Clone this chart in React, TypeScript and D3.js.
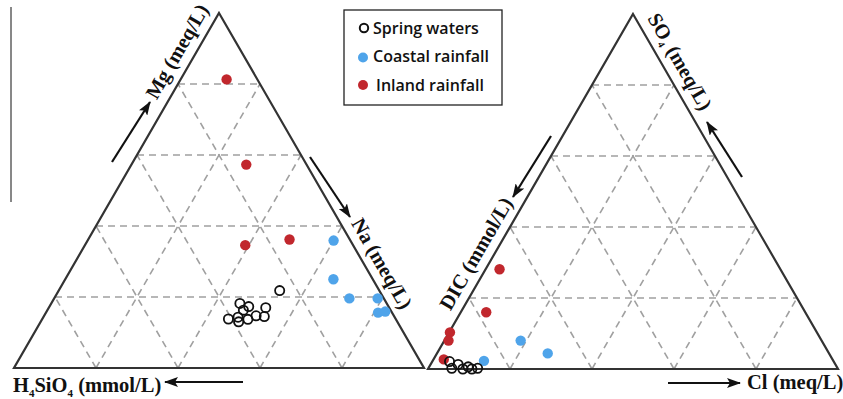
import React from "react";
import * as d3 from "d3";

// ---- Data (ternary fractions) ----
// Left triangle: [Mg, Na]  (H4SiO4 = 1 - Mg - Na)
const leftInland: [number, number][] = [
  [0.813, 0.112], [0.573, 0.28], [0.346, 0.391], [0.362, 0.491],
];
const leftCoastal: [number, number][] = [
  [0.359, 0.6], [0.25, 0.654], [0.196, 0.72], [0.196, 0.789], [0.156, 0.81], [0.159, 0.826],
];
const leftSpring: [number, number][] = [
  [0.218, 0.539], [0.182, 0.46], [0.173, 0.486], [0.163, 0.478], [0.17, 0.529],
  [0.138, 0.454], [0.143, 0.475], [0.13, 0.483], [0.137, 0.502], [0.147, 0.517], [0.145, 0.538],
];
// Right triangle: [SO4, Cl]  (DIC = 1 - SO4 - Cl)
const rightInland: [number, number][] = [
  [0.281, 0.034], [0.16, 0.062], [0.103, 0.002], [0.08, 0.01], [0.027, 0.025],
];
const rightCoastal: [number, number][] = [
  [0.08, 0.186], [0.044, 0.27], [0.023, 0.125],
];
const rightSpring: [number, number][] = [
  [0.021, 0.042], [0.013, 0.067], [0.002, 0.057], [0.0, 0.085], [0.006, 0.095], [0.002, 0.12], [0.0, 0.107],
];
const gridTicks = [0.2, 0.4, 0.6, 0.8];
const legendLabels = ["Spring waters", "Coastal rainfall", "Inland rainfall"];

const RED = "#c1272d";
const BLUE = "#4fa4ea";
const GRID = "#a0a0a0";
const EDGE = "#333";

type Tri = { x: d3.ScaleLinear<number, number>; y: d3.ScaleLinear<number, number> };

const leftTri: Tri = {
  x: d3.scaleLinear().domain([0, 1]).range([14, 424]),
  y: d3.scaleLinear().domain([0, 1]).range([368, 13]),
};
const rightTri: Tri = {
  x: d3.scaleLinear().domain([0, 1]).range([428, 838]),
  y: d3.scaleLinear().domain([0, 1]).range([369, 14]),
};

// top fraction t, right-corner fraction r
const pt = (tri: Tri, t: number, r: number): [number, number] => [tri.x(r + t / 2), tri.y(t)];

function Grid({ tri }: { tri: Tri }) {
  const lines: [number, number][][] = [];
  gridTicks.forEach((v) => {
    lines.push([pt(tri, v, 0), pt(tri, v, 1 - v)]);
    lines.push([pt(tri, 0, v), pt(tri, 1 - v, v)]);
    lines.push([pt(tri, 0, 1 - v), pt(tri, 1 - v, 0)]);
  });
  const outline = [pt(tri, 1, 0), pt(tri, 0, 1), pt(tri, 0, 0)];
  return (
    <g>
      {lines.map((l, i) => (
        <line key={i} x1={l[0][0]} y1={l[0][1]} x2={l[1][0]} y2={l[1][1]}
          stroke={GRID} strokeWidth={1.6} strokeDasharray="7,5" />
      ))}
      <path d={d3.line()(outline)! + "Z"} fill="none" stroke={EDGE} strokeWidth={2.2} strokeLinejoin="miter" />
    </g>
  );
}

function Points({ tri, inland, coastal, spring }: { tri: Tri; inland: [number, number][]; coastal: [number, number][]; spring: [number, number][] }) {
  return (
    <g>
      {inland.map((d, i) => {
        const [x, y] = pt(tri, d[0], d[1]);
        return <circle key={"i" + i} cx={x} cy={y} r={5.2} fill={RED} />;
      })}
      {coastal.map((d, i) => {
        const [x, y] = pt(tri, d[0], d[1]);
        return <circle key={"c" + i} cx={x} cy={y} r={5.2} fill={BLUE} />;
      })}
      {spring.map((d, i) => {
        const [x, y] = pt(tri, d[0], d[1]);
        return <circle key={"s" + i} cx={x} cy={y} r={4.6} fill="none" stroke="#111" strokeWidth={1.8} />;
      })}
    </g>
  );
}

const labelStyle: React.CSSProperties = {
  fontFamily: "'Liberation Serif', 'Times New Roman', serif",
  fontWeight: 700,
  fontSize: 20.5,
  fill: "#111",
};

function Arrow({ x1, y1, x2, y2 }: { x1: number; y1: number; x2: number; y2: number }) {
  return <line x1={x1} y1={y1} x2={x2} y2={y2} stroke="#111" strokeWidth={2.2} markerEnd="url(#ah)" />;
}

export default function App() {
  return (
    <svg width={843} height={399} style={{ position: "absolute", left: 0, top: 0, background: "#fff" }}>
      <defs>
        <marker id="ah" viewBox="0 0 14 10" refX={13} refY={5} markerWidth={14} markerHeight={10}
          markerUnits="userSpaceOnUse" orient="auto">
          <path d="M0,0 L14,5 L0,10 L3,5 Z" fill="#111" />
        </marker>
      </defs>
      <rect width={843} height={399} fill="#fff" />
      <line x1={11} y1={7} x2={11} y2={202} stroke="#111" strokeWidth={1} />

      <Grid tri={leftTri} />
      <Grid tri={rightTri} />
      <Points tri={leftTri} inland={leftInland} coastal={leftCoastal} spring={leftSpring} />
      <Points tri={rightTri} inland={rightInland} coastal={rightCoastal} spring={rightSpring} />

      {/* Left labels */}
      <text transform="translate(183,55) rotate(-60)" textAnchor="middle" style={labelStyle}>Mg (meq/L)</text>
      <Arrow x1={112} y1={162} x2={150} y2={102} />
      <text transform="translate(376,267) rotate(60)" textAnchor="middle" style={labelStyle}>Na (meq/L)</text>
      <Arrow x1={310} y1={157} x2={350} y2={217} />
      <text x={13} y={392} style={labelStyle}>
        H<tspan fontSize={11} dy={5}>4</tspan>
        <tspan dy={-5}>SiO</tspan>
        <tspan fontSize={11} dy={5}>4</tspan>
        <tspan dy={-5}> (mmol/L)</tspan>
      </text>
      <Arrow x1={243} y1={382} x2={165} y2={382} />

      {/* Right labels */}
      <text transform="translate(674,65) rotate(60)" textAnchor="middle" style={labelStyle}>
        SO<tspan fontSize={10} dy={4}>4</tspan>
        <tspan dy={-4}> (meq/L)</tspan>
      </text>
      <Arrow x1={742} y1={177} x2={707} y2={122} />
      <text transform="translate(482,257) rotate(-60)" textAnchor="middle" style={labelStyle}>DIC (mmol/L)</text>
      <Arrow x1={551} y1={136} x2={513} y2={197} />
      <text x={747} y={389} style={labelStyle}>Cl (meq/L)</text>
      <Arrow x1={668} y1={383} x2={740} y2={383} />

      {/* Legend */}
      <g>
        <rect x={344} y={10} width={158} height={95} fill="#fff" stroke="#222" strokeWidth={1.3} />
        <circle cx={364} cy={28} r={4.2} fill="none" stroke="#111" strokeWidth={2} />
        <circle cx={363} cy={57.5} r={5} fill={BLUE} />
        <circle cx={363} cy={85} r={5} fill={RED} />
        {legendLabels.map((s, i) => (
          <text key={s} x={i === 2 ? 376 : 373} y={33.5 + i * 28.5}
            style={{ fontFamily: "'Open Sans', sans-serif", fontWeight: 600, fontSize: 16, fill: "#111" }}>
            {s}
          </text>
        ))}
      </g>
    </svg>
  );
}
